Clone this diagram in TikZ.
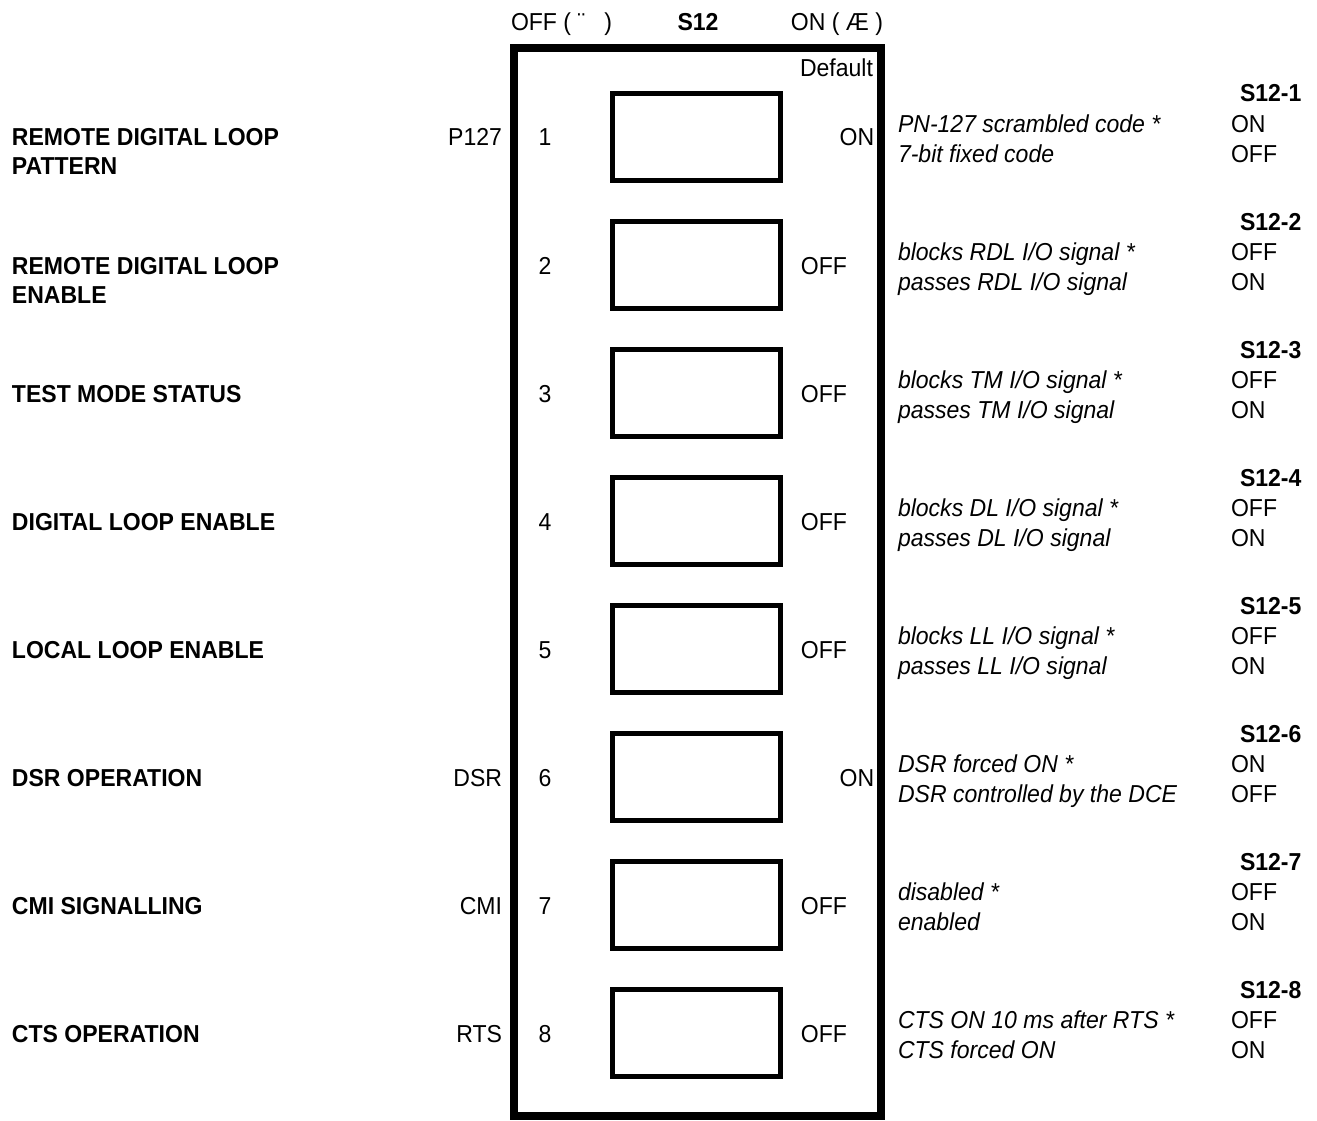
\documentclass[tikz,border=0pt]{standalone}
\usepackage{fontspec}
\setmainfont{Liberation Sans}[FakeStretch=0.94]
\begin{document}
\begin{tikzpicture}[x=1pt,y=-1pt,
  every node/.style={inner sep=0pt, outer sep=0pt, font=\fontsize{24.5}{28}\selectfont},
  lbl/.style={anchor=base west, font=\fontsize{24.5}{28}\selectfont\bfseries},
  abbr/.style={anchor=base east},
  num/.style={anchor=base},
  dflt/.style={anchor=base},
  desc/.style={anchor=base west, font=\fontsize{24.5}{28}\selectfont\itshape},
  swname/.style={anchor=base west, font=\fontsize{24.5}{28}\selectfont\bfseries},
  setting/.style={anchor=base west},
  frame/.style={draw, line width=8pt, minimum width=367pt, minimum height=1068pt},
  swbox/.style={draw, line width=5pt, minimum width=168pt, minimum height=87pt}]
\useasboundingbox (0,0) rectangle (1317,1121);
\node[frame] (fr) at (697,582) {};
% header
\node[anchor=base west] (hoff) at (511,31) {OFF ( ¨ \ \ )};
\node[anchor=base, font=\fontsize{24.5}{28}\selectfont\bfseries] (hs) at (698,31) {S12};
\node[anchor=base east] (hon) at (883,31) {ON ( Æ )};
\node[anchor=base east] (hdef) at (873,77) {Default};
% rows
\foreach \i/\la/\lb/\ab/\df/\dx/\da/\db/\sa/\sb in {
 1/REMOTE DIGITAL LOOP/PATTERN/P127/ON/857/{PN-127 scrambled code *}/{7-bit fixed code}/ON/OFF,
 2/REMOTE DIGITAL LOOP/ENABLE//OFF/824/{blocks RDL I/O signal *}/{passes RDL I/O signal}/OFF/ON,
 3/TEST MODE STATUS///OFF/824/{blocks TM I/O signal *}/{passes TM I/O signal}/OFF/ON,
 4/DIGITAL LOOP ENABLE///OFF/824/{blocks DL I/O signal *}/{passes DL I/O signal}/OFF/ON,
 5/LOCAL LOOP ENABLE///OFF/824/{blocks LL I/O signal *}/{passes LL I/O signal}/OFF/ON,
 6/DSR OPERATION//DSR/ON/857/{DSR forced ON *}/{DSR controlled by the DCE}/ON/OFF,
 7/CMI SIGNALLING//CMI/OFF/824/{disabled *}/{enabled}/OFF/ON,
 8/CTS OPERATION//RTS/OFF/824/{CTS ON 10 ms after RTS *}/{CTS forced ON}/OFF/ON}
{
 \pgfmathsetmacro{\rc}{137+128*(\i-1)}
 \node[lbl] (la\i) at (12,\rc+9) {\la};
 \node[lbl] (lb\i) at (12,\rc+38) {\lb};
 \node[abbr] (ab\i) at (502,\rc+9) {\ab};
 \node[num] (n\i) at (545,\rc+9) {\i};
 \node[swbox] (b\i) at (696,\rc) {};
 \node[dflt] (d\i) at (\dx,\rc+9) {\df};
 \node[desc] (da\i) at (898,\rc-5) {\da};
 \node[desc] (db\i) at (898,\rc+25) {\db};
 \node[swname] (s\i) at (1240,\rc-35) {S12-\i};
 \node[setting] (sa\i) at (1231,\rc-5) {\sa};
 \node[setting] (sb\i) at (1231,\rc+25) {\sb};
}
\end{tikzpicture}
\end{document}
